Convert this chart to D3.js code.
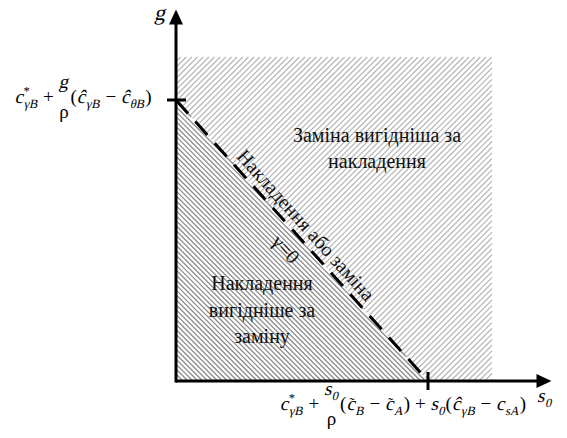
<!DOCTYPE html>
<html><head><meta charset="utf-8">
<script src="https://cdn.jsdelivr.net/npm/d3@7"></script>
<style>html,body{margin:0;padding:0;background:#fff;}svg{display:block;}</style>
</head><body>
<svg id="c" width="567" height="438"></svg>
<script>
// ---- data ----
const boundaryS = [0, 1];            // s0 values of the γ=0 line
const boundaryG = [1, 0];            // g values of the γ=0 line
const regionExtent = [1.254, 1.153]; // hatched area extent [s, g]
const axisExtent = [1.49, 1.322];    // arrow tips [s, g]
const upperLabel = ["Заміна вигідніша за", "накладення"];
const lowerLabel = ["Накладення", "вигідніше за", "заміну"];
const lineLabel = "Накладення або заміна";
const lineLabel2 = "γ=0";
const NB = '\u00a0';
const yTickLabel = [{b:'c',sup:'*',sub:'γB'},{op:NB+'+'+NB},{frac:[[{b:'g'}],[{op:'ρ'}]]},{op:'('},{b:'ĉ',sub:'γB'},{op:NB+'−'+NB},{b:'ĉ',sub:'θB'},{op:')'}];
const xTickLabel = [{b:'c',sup:'*',sub:'γB'},{op:NB+'+'+NB},{frac:[[{b:'s',sub:'0'}],[{op:'ρ'}]]},{op:'('},{b:'c',tilde:true,sub:'B'},{op:NB+'−'+NB},{b:'c',tilde:true,sub:'A'},{op:')'+NB+'+'+NB},{b:'s',sub:'0'},{op:'('},{b:'ĉ',sub:'γB'},{op:NB+'−'+NB},{b:'c',sub:'sA'},{op:')'}];

const FONT = '"Liberation Serif"';
const svg = d3.select('#c');
const x = d3.scaleLinear().domain([0,1]).range([176,428]);
const y = d3.scaleLinear().domain([0,1]).range([381,100]);

// z-order groups
const bg = svg.append('g');
const lineG = svg.append('g');
const axG = svg.append('g');
const lab = svg.append('g').attr('fill','#111');
const yl = svg.append('g').attr('fill','#000');
const xl = svg.append('g').attr('fill','#000');
const an = svg.append('g').attr('fill','#000');

function txt(g){ return g.append('text').style('font-family', FONT); }
// slanted (italic-looking) text without requesting an italic face
function itxt(g, px, py){ return txt(g).attr('transform',`translate(${px},${py}) skewX(-13)`).attr('x',0).attr('y',0); }

// region labels
upperLabel.forEach((t,i)=> txt(lab).attr('font-size',20).attr('text-anchor','middle').attr('x',377).attr('y',142+i*26).text(t));
lowerLabel.forEach((t,i)=> txt(lab).attr('font-size',20).attr('text-anchor','middle').attr('x',262).attr('y',290+i*26.5).text(t));
const ang = Math.atan2(y(boundaryG[1])-y(boundaryG[0]), x(boundaryS[1])-x(boundaryS[0]))*180/Math.PI;
txt(lab).attr('font-size',20).attr('text-anchor','middle').attr('transform',`translate(306,225) rotate(${ang})`).attr('dy','0.35em').text(lineLabel);
txt(lab).attr('font-size',20).attr('text-anchor','middle').attr('transform',`translate(286,249) rotate(${ang})`).attr('dy','0.35em').text(lineLabel2);

// formula renderer
function run(g, parts, fs){
  let cx = 0;
  parts.forEach(p=>{
    if(p.op!==undefined){
      const t = txt(g).attr('x',cx).attr('y',0).attr('font-size',fs).text(p.op);
      cx += t.node().getComputedTextLength();
    } else if(p.frac){
      const ng = g.append('g'), dg = g.append('g');
      const wn = run(ng, p.frac[0], fs), wd = run(dg, p.frac[1], fs);
      const w = Math.max(wn,wd);
      ng.attr('transform',`translate(${cx+(w-wn)/2},${-fs*0.8})`);
      dg.attr('transform',`translate(${cx+(w-wd)/2},${fs*0.8})`);
      cx += w + 1;
    } else {
      const t = itxt(g, cx, 0).attr('font-size',fs).text(p.b);
      const bw = t.node().getComputedTextLength();
      if(p.tilde){
        txt(g).attr('x',cx+bw/2+1.5).attr('y',-fs*0.12).attr('font-size',fs*0.8)
          .attr('text-anchor','middle').text('˜');
      }
      cx += bw + 0.5;
      let w2 = 0;
      if(p.sub){
        const s = itxt(g, cx, fs*0.28).attr('font-size',fs*0.66).text(p.sub);
        w2 = Math.max(w2, s.node().getComputedTextLength());
      }
      if(p.sup){
        const s = txt(g).attr('x',cx).attr('y',-fs*0.4).attr('font-size',fs*0.66).text(p.sup);
        w2 = Math.max(w2, s.node().getComputedTextLength()*0.3);
      }
      cx += w2 + 1;
    }
  });
  return cx;
}
const yw = run(yl, yTickLabel, 19);
yl.attr('transform',`translate(${83 - yw/2},${y(1)+3})`);
const xw = run(xl, xTickLabel, 19);
xl.attr('transform',`translate(${403 - xw/2},410)`);
itxt(an, 154, 20).attr('font-size',22).text('g');
const sn = an.append('g').attr('transform','translate(537,402)');
run(sn, [{b:'s',sub:'0'}], 19);

// hatching (lines clipped analytically to convex polygons)
function hatch(g, poly, dir, spacing, color, width){
  const n = [-dir[1], dir[0]];
  const proj = poly.map(p=>p[0]*n[0]+p[1]*n[1]);
  const lo = Math.min(...proj), hi = Math.max(...proj);
  const segs = [];
  for(let s = Math.ceil(lo/spacing)*spacing; s <= hi; s += spacing){
    const P = [n[0]*s, n[1]*s];
    const ts = [];
    for(let i=0;i<poly.length;i++){
      const A = poly[i], B = poly[(i+1)%poly.length];
      const e = [B[0]-A[0], B[1]-A[1]];
      const den = dir[0]*e[1]-dir[1]*e[0];
      if(Math.abs(den)<1e-9) continue;
      const w = [A[0]-P[0], A[1]-P[1]];
      const t = (w[0]*e[1]-w[1]*e[0])/den;
      const u = (w[0]*dir[1]-w[1]*dir[0])/den;
      if(u>=-1e-9 && u<=1+1e-9) ts.push(t);
    }
    if(ts.length>=2){
      const t0 = Math.min(...ts), t1 = Math.max(...ts);
      segs.push([[P[0]+dir[0]*t0, P[1]+dir[1]*t0],[P[0]+dir[0]*t1, P[1]+dir[1]*t1]]);
    }
  }
  g.selectAll(null).data(segs).join('line')
    .attr('x1',d=>d[0][0]).attr('y1',d=>d[0][1]).attr('x2',d=>d[1][0]).attr('y2',d=>d[1][1])
    .attr('stroke',color).attr('stroke-width',width);
}
const r2 = Math.SQRT1_2;
const upperPoly = [[x(0),y(0)],[x(0),y(regionExtent[1])],[x(regionExtent[0]),y(regionExtent[1])],[x(regionExtent[0]),y(0)]];
hatch(bg, upperPoly, [r2,-r2], 4.0, '#b8b8b8', 1.25);
const lowerPoly = [[x(0),y(0)],[x(boundaryS[0]),y(boundaryG[0])],[x(boundaryS[1]),y(boundaryG[1])]];
bg.append('path').attr('d', d3.line()(lowerPoly)+'Z').attr('fill','#fff');
hatch(bg, lowerPoly, [r2,r2], 3.5, '#8c8c8c', 1.3);

// dashed boundary
lineG.append('line').attr('x1',x(boundaryS[0])).attr('y1',y(boundaryG[0]))
  .attr('x2',x(boundaryS[1])).attr('y2',y(boundaryG[1]))
  .attr('stroke','#000').attr('stroke-width',3).attr('stroke-dasharray','18,11');

// axes
const ax = axG.append('g').attr('stroke','#000').attr('stroke-width',3);
ax.append('line').attr('x1',x(0)).attr('y1',y(0)).attr('x2',x(axisExtent[0])-12).attr('y2',y(0));
ax.append('line').attr('x1',x(0)).attr('y1',y(0)+1.5).attr('x2',x(0)).attr('y2',y(axisExtent[1])+12);
axG.append('path').attr('d',`M${x(axisExtent[0])},${y(0)}l-15,-7l0,14z`).attr('fill','#000');
axG.append('path').attr('d',`M${x(0)},${y(axisExtent[1])}l-7,15l14,0z`).attr('fill','#000');
ax.append('line').attr('x1',x(0)-9).attr('x2',x(0)+10).attr('y1',y(1)).attr('y2',y(1));
ax.append('line').attr('x1',x(1)).attr('x2',x(1)).attr('y1',y(0)-9).attr('y2',y(0)+9);
</script>
</body></html>
